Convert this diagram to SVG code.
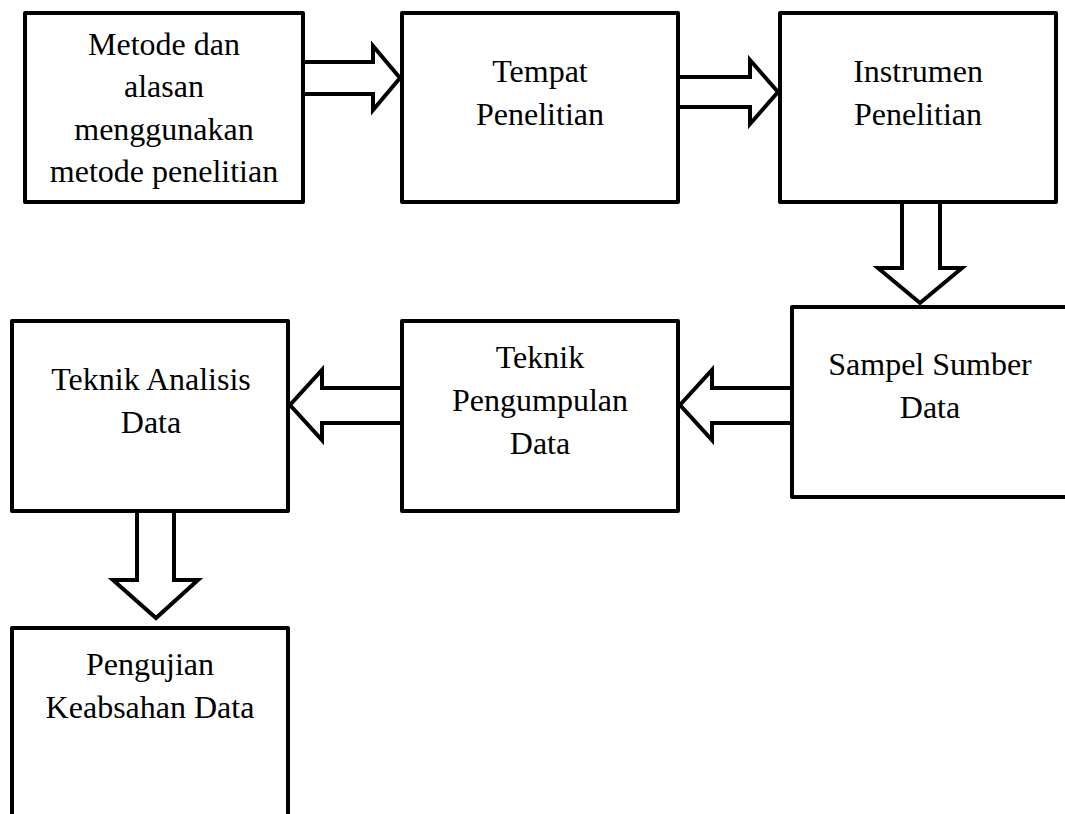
<svg xmlns="http://www.w3.org/2000/svg" width="1065" height="814" viewBox="0 0 1065 814">
<style>
.box{fill:#fff;stroke:#000;stroke-width:4;stroke-linejoin:round}
.arr{fill:#fff;stroke:#000;stroke-width:4;stroke-linejoin:miter}
text{font-family:"Liberation Serif","Times New Roman",serif;font-size:32px;fill:#000;text-anchor:middle}
</style>
<rect width="1065" height="814" fill="#fff"/>
<g id="connectors">
<path class="arr" d="M300,62 H373 V46 L400,78 L373,110 V94 H300"/>
<path class="arr" d="M675,77 H750 V60 L778,92 L750,124 V107 H675"/>
<path class="arr" d="M902,199 V268 H878 L920,303 L962,268 H940 V199"/>
<path class="arr" d="M795,388 H712 V370 L680,405 L712,440 V423 H795"/>
<path class="arr" d="M405,388 H322 V370 L290,405 L322,440 V423 H405"/>
<path class="arr" d="M137,508 V580 H113 L156,618 L198,580 H174 V508"/>
</g>
<g id="n1"><rect class="box" x="25" y="13" width="278" height="189"/>
<text x="164" y="55">Metode dan</text><text x="164" y="97">alasan</text><text x="164" y="140">menggunakan</text><text x="164" y="182">metode penelitian</text></g>
<g id="n2"><rect class="box" x="402" y="13" width="276" height="189"/>
<text x="540" y="82">Tempat</text><text x="540" y="125">Penelitian</text></g>
<g id="n3"><rect class="box" x="780" y="13" width="276" height="189"/>
<text x="918" y="82">Instrumen</text><text x="918" y="125">Penelitian</text></g>
<g id="n4"><rect class="box" x="792" y="307" width="280" height="190"/>
<text x="930" y="375">Sampel Sumber</text><text x="930" y="418">Data</text></g>
<g id="n5"><rect class="box" x="402" y="321" width="276" height="190"/>
<text x="540" y="368">Teknik</text><text x="540" y="411">Pengumpulan</text><text x="540" y="454">Data</text></g>
<g id="n6"><rect class="box" x="12" y="321" width="276" height="190"/>
<text x="151" y="390">Teknik Analisis</text><text x="151" y="433">Data</text></g>
<g id="n7"><rect class="box" x="12" y="628" width="276" height="200"/>
<text x="150" y="675">Pengujian</text><text x="150" y="718">Keabsahan Data</text></g>
</svg>
